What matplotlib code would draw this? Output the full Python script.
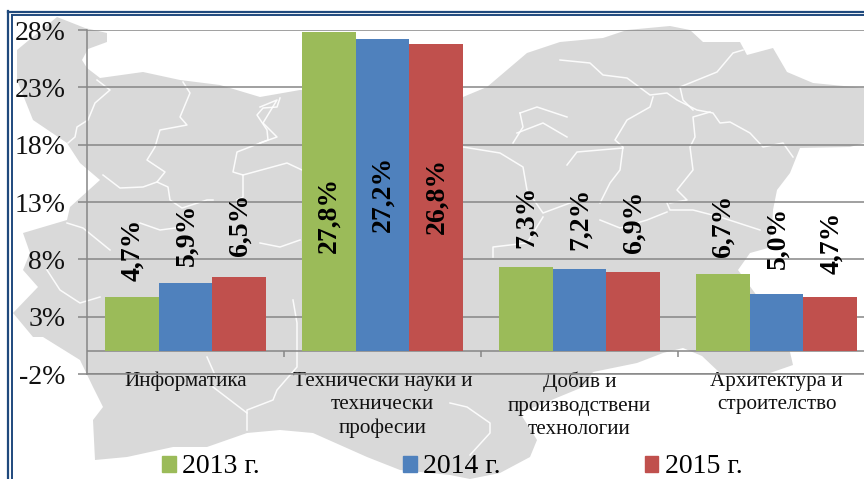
import matplotlib
matplotlib.use('Agg')
import matplotlib.pyplot as plt
from matplotlib.patches import Patch, Polygon

plt.rcParams['font.family'] = ['Liberation Serif', 'DejaVu Serif']

categories = ['Информатика', 'Технически науки и\nтехнически\nпрофесии',
              'Добив и\nпроизводствени\nтехнологии', 'Архитектура и\nстроителство']
years = ['2013 г.', '2014 г.', '2015 г.']
values_2013 = [4.7, 27.8, 7.3, 6.7]
values_2014 = [5.9, 27.2, 7.2, 5.0]
values_2015 = [6.5, 26.8, 6.9, 4.7]
yticks = [-2, 3, 8, 13, 18, 23, 28]
colors = ['#9BBB59', '#4F81BD', '#C0504D']

# distance label bottom <-> top of bar, pixels (the inside ones are negative)
gaps_2013 = [16, -221, 19, 17]
gaps_2014 = [17, -193, 19, 25]
gaps_2015 = [21, -190, 19, 23]

# map behind the chart, traced in image pixels
map_outline = [(57, 17), (85, 28), (107, 33), (107, 42), (88, 49), (82, 60), (87, 68), (100, 78),
               (143, 72), (180, 80), (220, 85), (260, 97), (300, 90), (340, 92), (420, 100),
               (463, 97), (487, 87), (507, 70), (527, 53), (560, 42), (603, 38), (627, 30),
               (670, 26), (690, 30), (703, 42), (740, 42), (747, 55), (773, 48), (787, 72),
               (813, 83), (864, 88), (864, 143), (850, 147), (800, 148), (790, 173), (777, 190),
               (773, 210), (772, 230), (768, 248), (750, 253), (738, 270), (760, 300), (790, 352),
               (793, 365), (770, 373), (720, 373), (702, 356), (683, 348), (663, 353), (637, 363),
               (593, 372), (583, 387), (520, 413), (537, 440), (530, 457), (500, 473), (470, 479),
               (450, 475), (400, 470), (367, 457), (313, 433), (280, 430), (247, 433), (207, 447),
               (173, 447), (127, 457), (95, 460), (93, 420), (103, 407), (93, 387), (80, 360),
               (43, 337), (33, 337), (13, 313), (38, 287), (23, 270), (30, 253), (23, 233),
               (67, 220), (70, 207), (100, 180), (80, 163), (67, 143), (33, 120), (17, 80), (17, 50)]
map_borders = [
    [(97, 80), (110, 90), (95, 103), (88, 120), (77, 127), (75, 137), (68, 143)],
    [(183, 82), (190, 93), (180, 117), (187, 125), (160, 130), (155, 147), (147, 160), (165, 172),
     (157, 182), (168, 187), (170, 200), (182, 208), (207, 200), (213, 200)],
    [(103, 175), (120, 188), (143, 187), (157, 182)],
    [(280, 98), (277, 107), (263, 108), (257, 115), (267, 130), (268, 140), (237, 152), (233, 172),
     (243, 175), (287, 163), (302, 170)],
    [(243, 175), (243, 197), (237, 200)],
    [(560, 60), (590, 63), (603, 75), (627, 78), (650, 95), (667, 93), (677, 100), (697, 110),
     (713, 113), (720, 123), (730, 122), (750, 133), (763, 147), (783, 143), (793, 157)],
    [(743, 50), (733, 53), (717, 72), (680, 87), (683, 100), (693, 110)],
    [(653, 97), (650, 107), (627, 120), (615, 140), (623, 147), (620, 170), (610, 183), (600, 203)],
    [(710, 112), (693, 117), (695, 137), (690, 147), (693, 170), (677, 190), (687, 200), (670, 203)],
    [(623, 148), (577, 152), (567, 165)],
    [(667, 203), (670, 210), (693, 210), (720, 217), (760, 230)],
    [(600, 220), (620, 228), (647, 220), (667, 212)],
    [(463, 147), (500, 153), (523, 167), (527, 190), (543, 213), (570, 203)],
    [(520, 113), (537, 107), (567, 117)],
    [(520, 113), (523, 127), (513, 143)],
    [(517, 133), (543, 123), (567, 137)],
    [(493, 257), (493, 247), (527, 243), (543, 217)],
    [(260, 107), (277, 100), (263, 123), (277, 137), (260, 143)],
    [(260, 243), (280, 247), (300, 240)],
    [(67, 223), (83, 228), (110, 250)],
    [(47, 270), (60, 290), (80, 303), (100, 297)],
    [(140, 223), (160, 230), (183, 227)],
    [(293, 300), (297, 323), (297, 353), (297, 367), (277, 390), (273, 400), (247, 410), (247, 430)],
    [(213, 387), (247, 413)],
    [(207, 357), (215, 375)],
    [(450, 403), (467, 407), (490, 423), (490, 433), (470, 455)],
]

W, H = 864, 479
fig = plt.figure(figsize=(W / 100, H / 100), dpi=100)

bg = fig.add_axes([0, 0, 1, 1], zorder=0)
bg.set_xlim(0, W)
bg.set_ylim(H, 0)
bg.axis('off')
bg.add_patch(Polygon(map_outline, closed=True, fc='#D9D9D9', ec='none'))
for b in map_borders:
    bg.plot([p[0] for p in b], [p[1] for p in b], color='white', lw=1.1, alpha=0.9)
# double blue frame, top and left only
frame = '#1F497D'
bg.plot([8, 8], [H, 11], color=frame, lw=1.6)
bg.plot([8, W], [11.5, 11.5], color=frame, lw=1.6)
bg.plot([11.5, 11.5], [H, 14.5], color=frame, lw=1.4)
bg.plot([11.5, W], [14.5, 14.5], color=frame, lw=1.4)

# 28% sits at y=30, -2% at y=374; first category starts at x=87
left, top, bottom = 87, 30, 374
ax = fig.add_axes([left / W, (H - bottom) / H, (W - left) / W, (bottom - top) / H], zorder=1)
ax.patch.set_alpha(0)
ax.set_xlim(-0.5, -0.5 + (W - left) / 197)
ax.set_ylim(-2, 28)

width = 0.274
series = [values_2013, values_2014, values_2015]
gaps = [gaps_2013, gaps_2014, gaps_2015]
for i, vals in enumerate(series):
    xs = [c + (i - 1) * width for c in range(len(categories))]
    ax.bar(xs, vals, width, color=colors[i], zorder=3, label=years[i])
    for x, v, g in zip(xs, vals, gaps[i]):
        ax.annotate(('%.1f%%' % v).replace('.', ','), (x, v), xytext=(1, g),
                    textcoords='offset pixels', rotation=90, ha='center', va='bottom',
                    fontsize=20, fontweight='bold', color='black', zorder=5)

ax.set_yticks(yticks)
ax.set_yticklabels(['%d%%' % t for t in yticks], fontsize=20, color='#111111')
ax.grid(axis='y', color='#868686', lw=1.1, zorder=1)
ax.set_axisbelow(True)
ax.tick_params(axis='y', length=6.5, width=1.1, color='#868686', pad=9)
ax.set_xticks(range(len(categories)))
ax.set_xticklabels(categories, fontsize=15.2, linespacing=1.3, color='#111111')
ax.tick_params(axis='x', length=0, pad=-1.5)

ax.axhline(0, color='#868686', lw=1.1, zorder=2)
ax.vlines([0.5, 1.5, 2.5], -0.55, 0, color='#868686', lw=1.1, zorder=2)
for s in ['top', 'right']:
    ax.spines[s].set_visible(False)
for s in ['left', 'bottom']:
    ax.spines[s].set_color('#868686')
    ax.spines[s].set_linewidth(1.1)

handles = [Patch(color=c, label=y) for c, y in zip(colors, years)]
fig.legend(handles=handles, ncol=3, frameon=False, fontsize=20, loc='lower left',
           bbox_to_anchor=(162 / W, -0.001), borderaxespad=0, borderpad=0,
           handlelength=0.5, handleheight=0.5, handletextpad=0.22, columnspacing=5.17)

fig.savefig('out.png', dpi=100)
